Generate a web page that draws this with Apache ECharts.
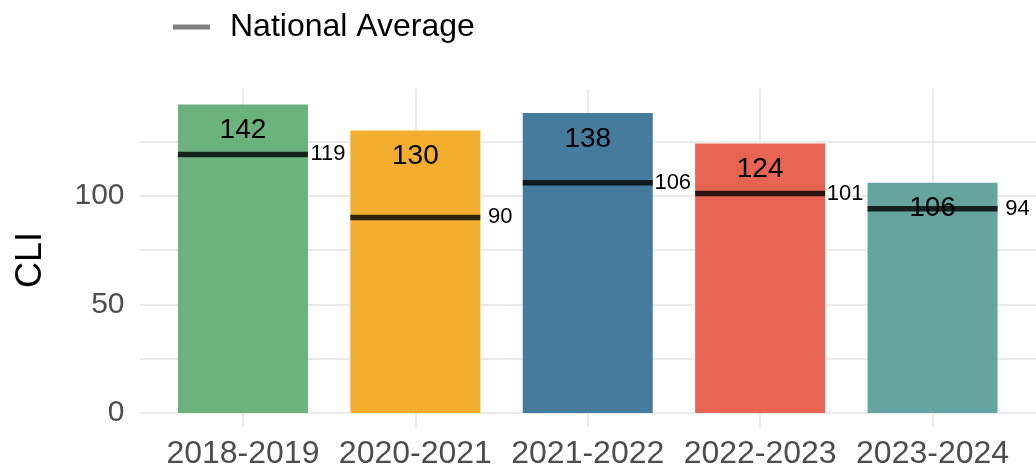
<!DOCTYPE html>
<html lang="en">
<head>
    <meta charset="UTF-8">
    <title>CLI by year</title>
    <script type="text/javascript" src="https://cdn.jsdelivr.net/npm/echarts@6/dist/echarts.min.js"></script>
    <style>
        html, body { margin: 0; padding: 0; background: #fff; }
    </style>
</head>
<body>
<div id="chart" style="width: 1036px;height:471px;"></div>
<script>
    var years = ['2018-2019', '2020-2021', '2021-2022', '2022-2023', '2023-2024'];
    var cli = [142, 130, 138, 124, 106];
    var nationalAvg = [119, 90, 106, 101, 94];
    var barColors = ['#6bb27c', '#f4ae2f', '#457b9d', '#e76452', '#66a59f'];
    var yLabels = [0, 50, 100];
    var yGrid = [0, 25, 50, 75, 100, 125];

    // position along x is 1..n, like ggplot's discrete scale
    var pos = years.map(function (y, i) { return i + 1; });

    var barData = cli.map(function (v, i) {
        return { value: [pos[i], v], itemStyle: { color: barColors[i] } };
    });
    var avgData = nationalAvg.map(function (v, i) {
        return [pos[i], v];
    });

    var option = {
        animation: false,
        textStyle: { fontFamily: 'Liberation Sans' },
        legend: {
            left: 168,
            top: 6,
            itemWidth: 37,
            itemHeight: 5,
            data: [{ name: 'National Average', icon: 'rect', itemStyle: { color: '#7f7f7f', opacity: 1 } }],
            textStyle: { fontSize: 32, color: '#000', padding: [0, 0, 0, 15] }
        },
        grid: { left: 139.5, top: 89, width: 900, height: 324, containLabel: false },
        xAxis: {
            type: 'value',
            min: 0.4,
            max: 5.6,
            axisLine: { show: false },
            axisTick: {
                show: true, length: 14, customValues: pos,
                lineStyle: { color: '#ebebeb', width: 2 }
            },
            axisLabel: {
                customValues: pos,
                fontSize: 32, color: '#4d4d4d', margin: 25,
                formatter: function (v) { return years[Math.round(v) - 1]; }
            },
            splitLine: { show: true, lineStyle: { color: '#ebebeb', width: 2 } }
        },
        yAxis: {
            type: 'value',
            min: 0,
            max: 149.1,
            name: 'CLI',
            nameLocation: 'middle',
            nameRotate: 90,
            nameGap: 90,
            nameTextStyle: { fontSize: 36, color: '#000', padding: [0, 18, 0, 0] },
            axisLine: { show: false },
            axisTick: { show: false, customValues: yGrid },
            axisLabel: { customValues: yLabels, fontSize: 30, color: '#4d4d4d', margin: 15 },
            splitLine: { show: true, lineStyle: { color: '#ebebeb', width: 2 } }
        },
        series: [{
            name: 'CLI',
            type: 'bar',
            barWidth: 130,
            data: barData,
            label: {
                show: true, position: 'insideTop', distance: 12,
                fontSize: 28, color: '#000',
                formatter: function (p) { return p.value[1]; }
            },
            z: 2
        }, {
            name: 'National Average',
            type: 'scatter',
            symbol: 'rect',
            symbolSize: [130, 5.5],
            data: avgData,
            itemStyle: { color: 'rgba(0,0,0,0.8)', opacity: 1 },
            label: {
                show: true, position: 'inside', offset: [85, 0],
                fontSize: 22, color: '#000',
                formatter: function (p) { return p.value[1]; }
            },
            z: 3
        }]
    };
    var myChart = echarts.init(document.getElementById('chart'));
    myChart.setOption(option);
</script>
</body>
</html>
